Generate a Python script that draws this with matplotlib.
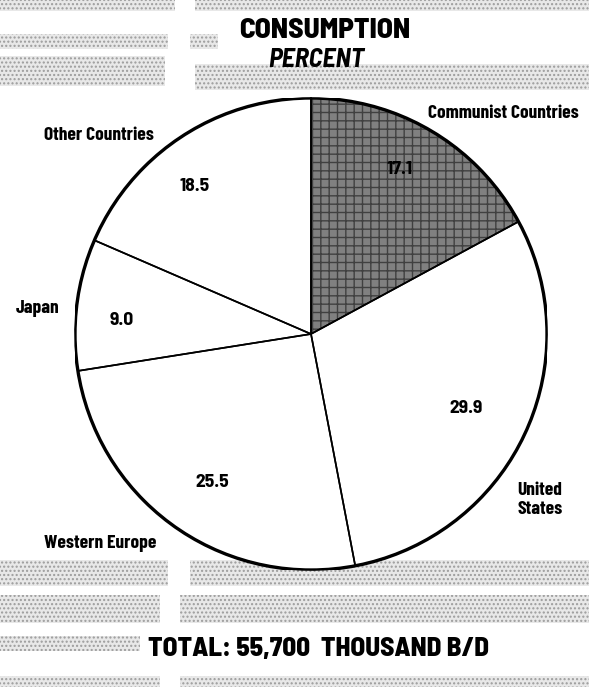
import matplotlib.pyplot as plt
from matplotlib.patches import Circle, Rectangle

# consumption share, percent (clockwise from 12 o'clock)
regions = ["Communist Countries", "United\nStates", "Western Europe", "Japan", "Other Countries"]
shares = [17.1, 29.9, 25.5, 9.0, 18.5]
value_labels = ["17.1", "29.9", "25.5", "9.0", "18.5"]

title = "CONSUMPTION"
subtitle = "PERCENT"
total_text = "TOTAL: 55,700  THOUSAND B/D"

LABEL_FONT = ["Barlow Condensed", "DejaVu Sans"]
TITLE_FONT = ["Barlow Semi Condensed", "DejaVu Sans"]

W, H = 589, 687
fig = plt.figure(figsize=(W / 100, H / 100), dpi=100)
fig.patch.set_facecolor("white")

# scanned-paper grey bands (pixel boxes: x0, y0 from top, width, height)
bg = fig.add_axes([0, 0, 1, 1])
bg.set_xlim(0, W)
bg.set_ylim(H, 0)
bg.axis("off")
bands = [(0, 0, 175, 11), (195, 0, 394, 11),
         (0, 34, 168, 15), (190, 34, 28, 15),
         (0, 56, 165, 30), (195, 64, 394, 26),
         (0, 560, 168, 26), (190, 560, 399, 26),
         (0, 595, 160, 28), (180, 595, 409, 28),
         (0, 636, 140, 15),
         (0, 676, 160, 11), (180, 676, 409, 11)]
for x0, y0, w, h in bands:
    bg.add_patch(Rectangle((x0, y0), w, h, facecolor="#e8e8e8", edgecolor="#9c9c9c",
                           hatch="....", linewidth=0))

# pie axes: centre (311, 334) px, radius 236 px
cx, cy, r = 311, 334, 236
ax = fig.add_axes([(cx - r) / W, (H - cy - r) / H, 2 * r / W, 2 * r / H])

colors = ["#808080", "white", "white", "white", "white"]
wedges, _ = ax.pie(shares, startangle=90, counterclock=False, colors=colors,
                   wedgeprops=dict(linewidth=0), radius=1)
wedges[0].set_hatch("++")
wedges[0].set_edgecolor("#404040")
# slice outlines
ax.pie(shares, startangle=90, counterclock=False, colors=["none"] * 5,
       wedgeprops=dict(linewidth=1.2, edgecolor="black"), radius=1)
ax.add_patch(Circle((0, 0), 1, facecolor="none", edgecolor="black", linewidth=2.4))
ax.set_xlim(-1, 1)
ax.set_ylim(-1, 1)
ax.axis("off")

# label positions in pie units
value_pos = [(0.377, 0.695), (0.657, -0.314), (-0.419, -0.631), (-0.801, 0.059), (-0.492, 0.623)]
name_pos = [(0.814, 0.936), (0.970, -0.703), (-0.894, -0.886), (-1.159, 0.110), (-0.898, 0.839)]

for (x, y), t in zip(value_pos, value_labels):
    ax.text(x, y, t, ha="center", va="center", fontsize=14, fontweight="bold",
            family=TITLE_FONT, color="black")
for (x, y), t in zip(name_pos, regions):
    ax.text(x, y, t, ha="center", va="center", fontsize=14, fontweight="bold",
            family=LABEL_FONT, color="black", linespacing=1.1, clip_on=False)

fig.text(325 / W, 1 - 30 / H, title, ha="center", va="center", fontsize=21,
         fontweight="heavy", family=TITLE_FONT)
fig.text(316 / W, 1 - 60 / H, subtitle, ha="center", va="center", fontsize=19,
         fontweight="bold", style="italic", family=TITLE_FONT)
fig.text(318 / W, 1 - 649 / H, total_text, ha="center", va="center", fontsize=19.5,
         fontweight="heavy", family=TITLE_FONT)

fig.savefig("out.png", dpi=100)
